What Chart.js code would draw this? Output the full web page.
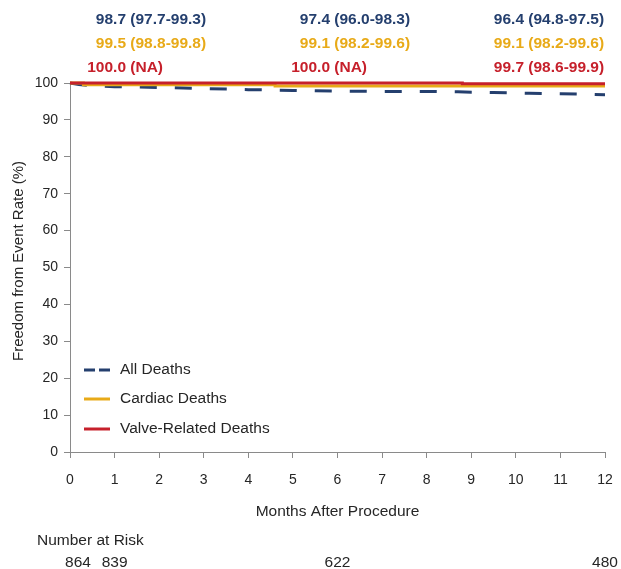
<!DOCTYPE html>
<html>
<head>
<meta charset="utf-8">
<script src="https://cdn.jsdelivr.net/npm/chart.js@4.4.1/dist/chart.umd.min.js"></script>
<style>
  html, body { margin: 0; padding: 0; background: #fff; }
  #wrap { width: 621px; height: 569px; position: relative; }
</style>
</head>
<body>
<div id="wrap"><canvas id="kmChart"></canvas></div>
<script>
// Kaplan-Meier style freedom-from-event curves
const allMonths = [0, 0.2, 0.5, 1, 2, 3, 4, 5, 6, 7, 8, 8.7, 9.5, 10.3, 11, 12];
const allDeaths = [100, 99.6, 99.3, 99.0, 98.8, 98.5, 98.2, 98.0, 97.8, 97.7, 97.7, 97.6, 97.4, 97.2, 97.1, 96.8];

const cardiacMonths = [0, 0.3, 4.6, 12];
const cardiacDeaths = [100, 99.5, 99.2, 99.2];

const valveMonths = [0, 8.8, 12];
const valveDeaths = [100, 99.8, 99.8];

const seriesNames = ['All Deaths', 'Cardiac Deaths', 'Valve-Related Deaths'];

// estimates with 95% CI shown above the plot at 1, 6 and 12 months
const estMonths = [1, 6, 12];
const estAll = [['98.7', '(97.7-99.3)'], ['97.4', '(96.0-98.3)'], ['96.4', '(94.8-97.5)']];
const estCardiac = [['99.5', '(98.8-99.8)'], ['99.1', '(98.2-99.6)'], ['99.1', '(98.2-99.6)']];
const estValve = [['100.0', '(NA)'], ['100.0', '(NA)'], ['99.7', '(98.6-99.9)']];

const riskMonths = [0, 1, 6, 12];
const atRisk = [864, 839, 622, 480];

const monthTicks = [0, 1, 2, 3, 4, 5, 6, 7, 8, 9, 10, 11, 12];
const rateTicks = [0, 10, 20, 30, 40, 50, 60, 70, 80, 90, 100];

const NAVY = '#243f6e';
const GOLD = '#e8aa18';
const RED = '#c6202b';
const TEXT = '#262626';
const AXIS = '#8a8a8a';
const FONT = '"Liberation Sans", Arial, sans-serif';

Chart.defaults.font.family = FONT;
Chart.defaults.color = TEXT;

const toPoints = (xs, ys) => xs.map((x, i) => ({ x: x, y: ys[i] }));

const extras = {
    id: 'extras',
    afterDraw(chart) {
        const { ctx, chartArea } = chart;
        const xs = chart.scales.x;
        ctx.save();

        // y axis title
        ctx.fillStyle = TEXT;
        ctx.font = '15px ' + FONT;
        ctx.textAlign = 'center';
        ctx.textBaseline = 'middle';
        ctx.save();
        ctx.translate(19, 261);
        ctx.rotate(-Math.PI / 2);
        ctx.fillText('Freedom from Event Rate (%)', 0, 0);
        ctx.restore();

        // x axis title
        ctx.font = '15.5px ' + FONT;
        ctx.fillText('Months After Procedure', (chartArea.left + chartArea.right) / 2, 512);

        // number at risk
        ctx.textAlign = 'left';
        ctx.fillText('Number at Risk', 37, 541);
        ctx.textAlign = 'center';
        riskMonths.forEach((m, i) => {
            const shift = i === 0 ? 8 : 0;
            ctx.fillText(String(atRisk[i]), xs.getPixelForValue(m) + shift, 563);
        });

        // estimate rows
        const splitX = [126, 330, 524];
        const rows = [[estAll, NAVY, 20], [estCardiac, GOLD, 44], [estValve, RED, 68]];
        ctx.font = 'bold 15.5px ' + FONT;
        rows.forEach(([vals, color, y]) => {
            ctx.fillStyle = color;
            estMonths.forEach((m, i) => {
                ctx.textAlign = 'right';
                ctx.fillText(vals[i][0], splitX[i], y);
                ctx.textAlign = 'left';
                ctx.fillText(' ' + vals[i][1], splitX[i], y);
            });
        });

        // legend
        ctx.font = '15.5px ' + FONT;
        ctx.textAlign = 'left';
        const legendY = [370, 399, 429];
        const legendColors = [NAVY, GOLD, RED];
        seriesNames.forEach((name, i) => {
            ctx.strokeStyle = legendColors[i];
            ctx.lineWidth = 3;
            ctx.setLineDash(i === 0 ? [11, 4] : []);
            ctx.beginPath();
            ctx.moveTo(84, legendY[i]);
            ctx.lineTo(110, legendY[i]);
            ctx.stroke();
            ctx.setLineDash([]);
            ctx.fillStyle = TEXT;
            ctx.fillText(name, 120, legendY[i]);
        });

        ctx.restore();
    }
};

new Chart(document.getElementById('kmChart'), {
    type: 'line',
    data: {
        datasets: [
            {
                label: seriesNames[0],
                data: toPoints(allMonths, allDeaths),
                borderColor: NAVY,
                borderWidth: 3,
                borderDash: [17, 18],
                pointRadius: 0,
                order: 2,
                clip: false
            },
            {
                label: seriesNames[1],
                data: toPoints(cardiacMonths, cardiacDeaths),
                borderColor: GOLD,
                borderWidth: 3,
                stepped: 'before',
                pointRadius: 0,
                order: 1,
                clip: false
            },
            {
                label: seriesNames[2],
                data: toPoints(valveMonths, valveDeaths),
                borderColor: RED,
                borderWidth: 3,
                stepped: 'before',
                pointRadius: 0,
                order: 0,
                clip: false
            }
        ]
    },
    options: {
        responsive: true,
        maintainAspectRatio: false,
        animation: false,
        layout: { padding: { top: 83, right: 16, left: 0, bottom: 0 } },
        scales: {
            x: {
                type: 'linear',
                min: 0,
                max: 12,
                afterBuildTicks: s => { s.ticks = monthTicks.map(v => ({ value: v })); },
                afterFit: s => { s.height = 117; s.paddingRight = 0; s.paddingLeft = 0; },
                grid: { drawOnChartArea: false, drawTicks: true, tickLength: 6, color: AXIS },
                border: { display: true, color: AXIS, width: 1 },
                ticks: { color: TEXT, font: { size: 14 }, padding: 14, maxRotation: 0 }
            },
            y: {
                min: 0,
                max: 100,
                afterBuildTicks: s => { s.ticks = rateTicks.map(v => ({ value: v })); },
                afterFit: s => { s.width = 70; },
                grid: { drawOnChartArea: false, drawTicks: true, tickLength: 6, color: AXIS },
                border: { display: true, color: AXIS, width: 1 },
                ticks: { color: TEXT, font: { size: 14 }, padding: 6 }
            }
        },
        plugins: {
            legend: { display: false },
            tooltip: { enabled: false }
        }
    },
    plugins: [extras]
});
</script>
</body>
</html>
